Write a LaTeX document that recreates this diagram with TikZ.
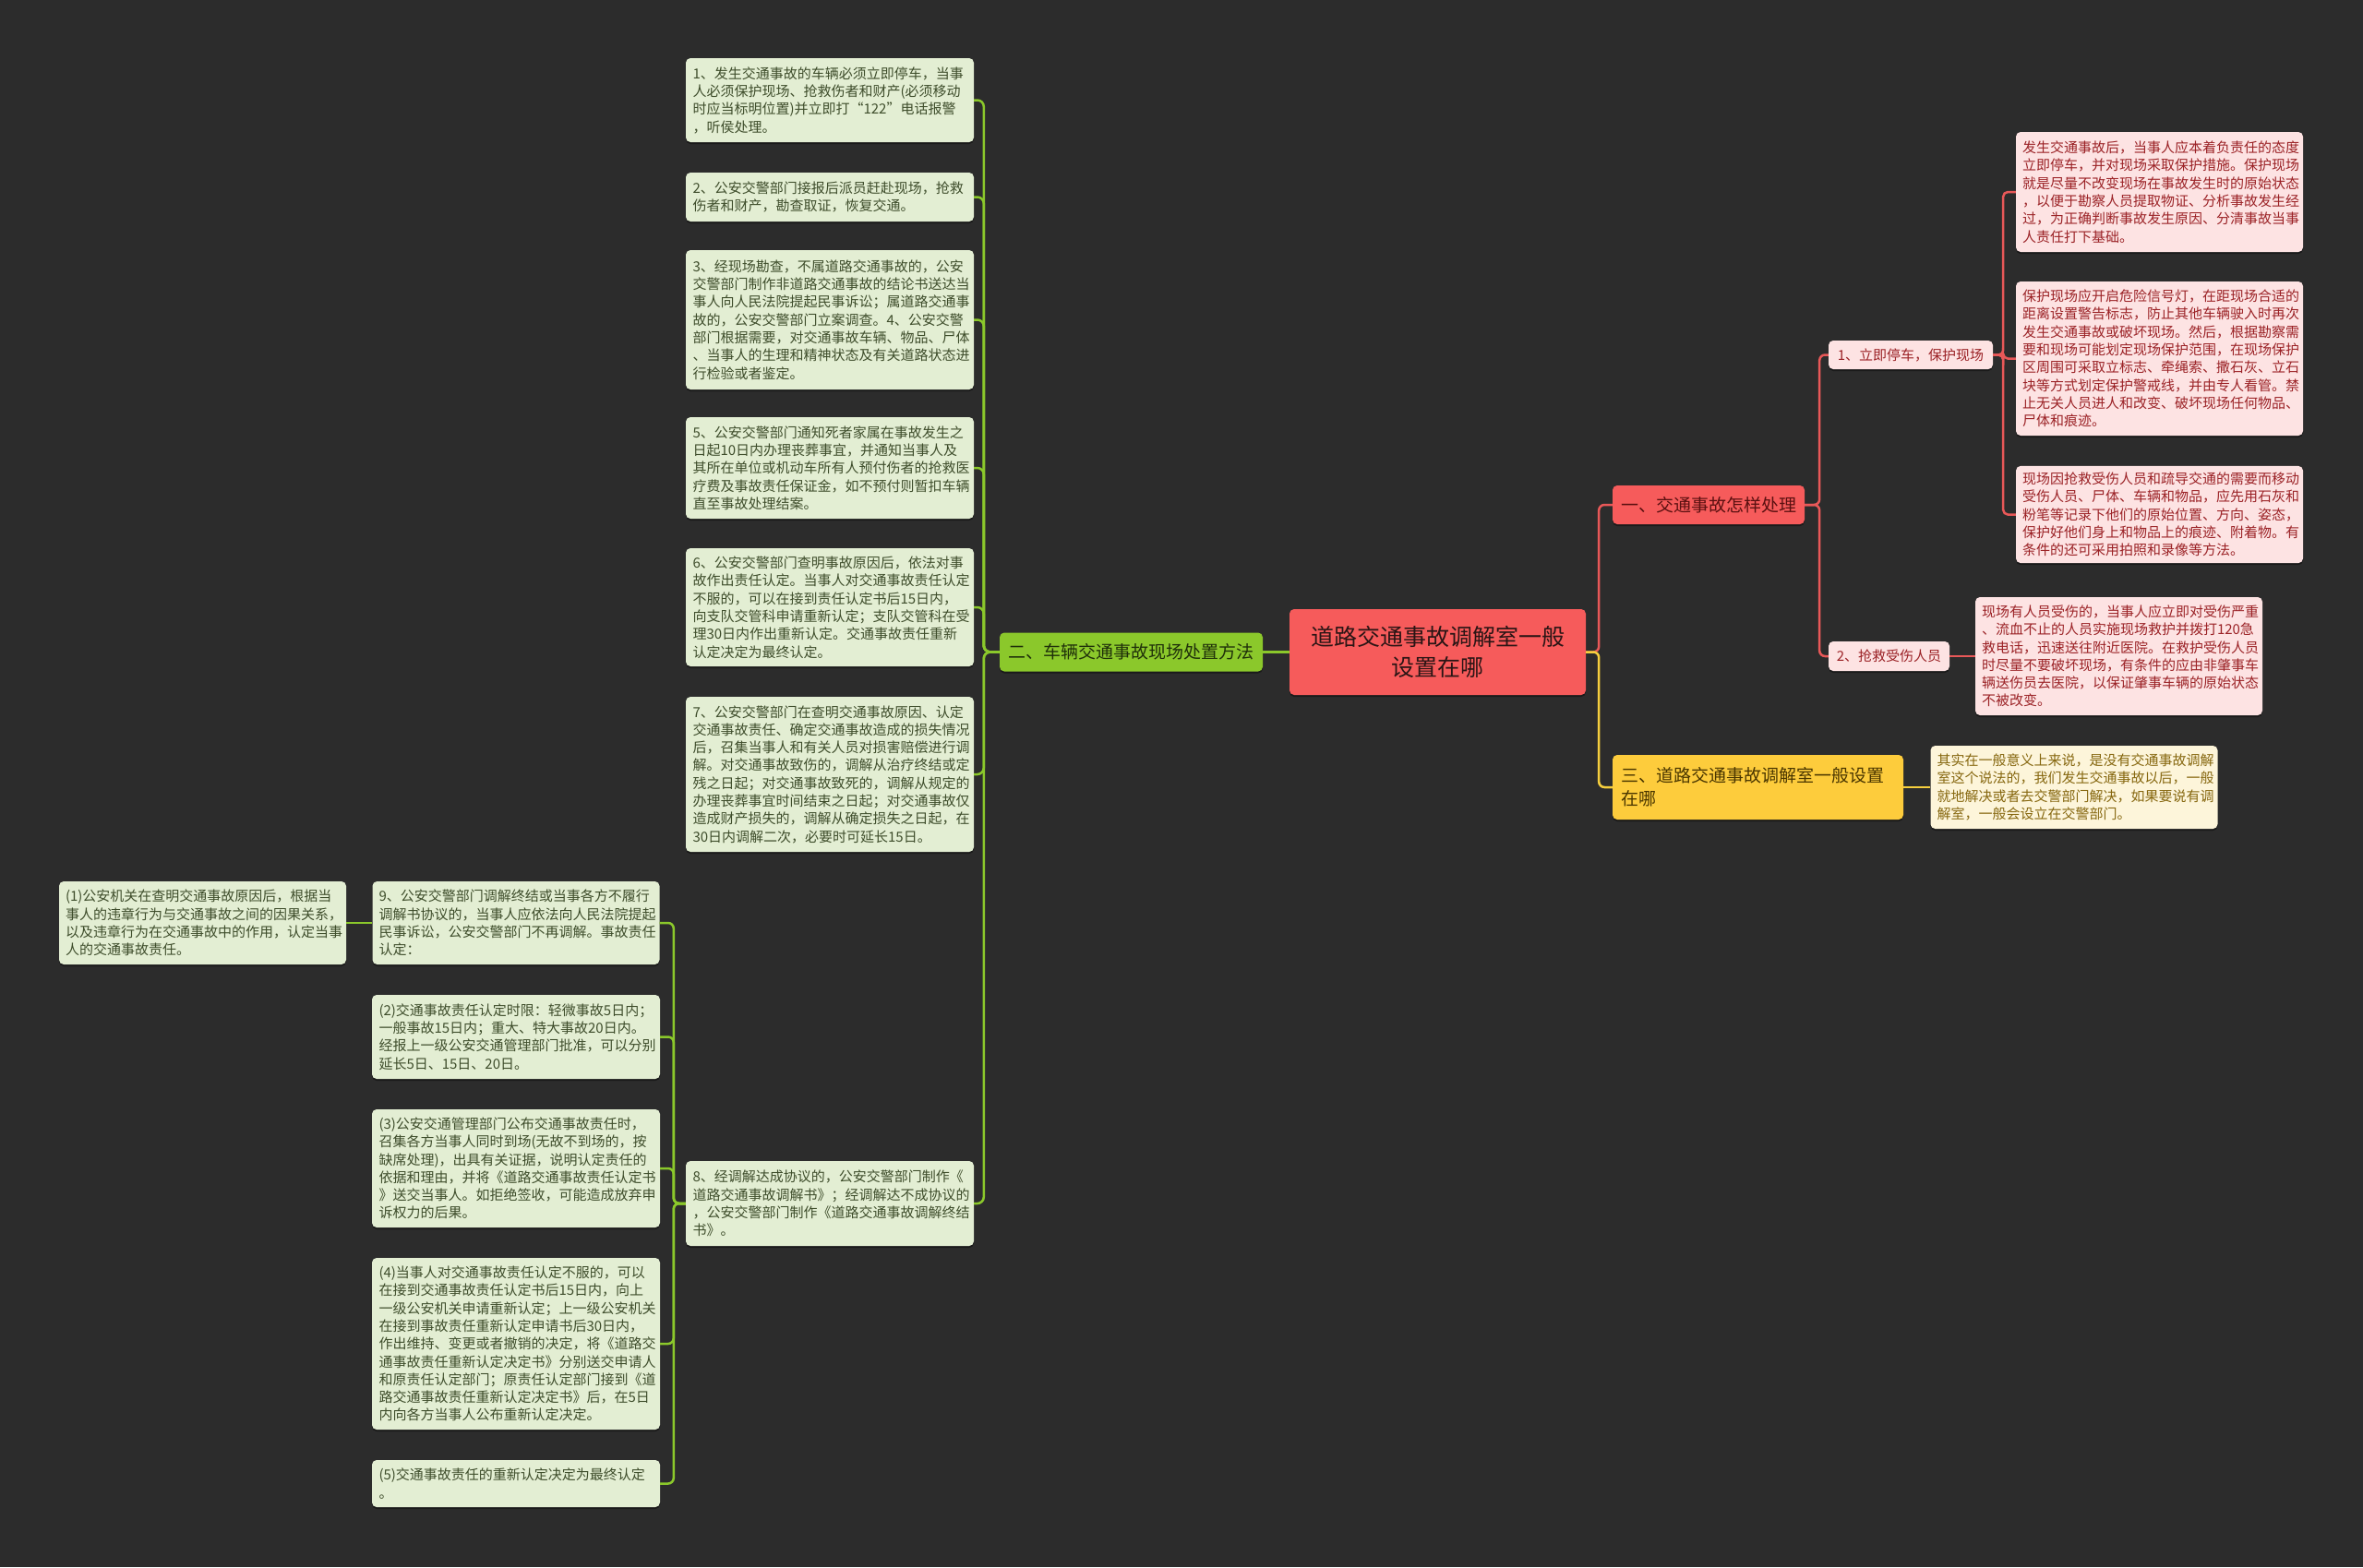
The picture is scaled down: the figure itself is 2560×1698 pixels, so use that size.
\documentclass[tikz,border=0pt]{standalone}
\usepackage{fontspec}
\setmainfont{Noto Sans CJK SC}
\definecolor{bg}{HTML}{2C2C2C}
\definecolor{shadowc}{HTML}{1A1A1A}
\definecolor{gfill}{HTML}{E3EED3}
\definecolor{gtext}{HTML}{3E4D2B}
\definecolor{pfill}{HTML}{FDE3E3}
\definecolor{ptext}{HTML}{9B2226}
\definecolor{yfill}{HTML}{FDF5DA}
\definecolor{ytext}{HTML}{86670F}
\definecolor{cred}{HTML}{F65B5B}
\definecolor{cgreen}{HTML}{8BC82B}
\definecolor{cyellow}{HTML}{FDCC3C}
\definecolor{lred}{HTML}{E85858}
\definecolor{lyellow}{HTML}{F6CF3E}
\definecolor{ctext}{HTML}{2A1515}
\definecolor{gntext}{HTML}{1F300A}
\definecolor{rntext}{HTML}{5A1010}
\definecolor{yntext}{HTML}{4A3600}
\begin{document}
\begin{tikzpicture}[x=1pt,y=-1pt,
  box/.style={rounded corners=5pt, inner sep=7pt, draw=none,
    preaction={fill=shadowc, draw=none, transform canvas={yshift=-2pt}}},
  leaf/.style={box, align=left, minimum width=311pt, text width=297pt,
    font=\fontsize{15}{19.3}\selectfont},
  gleaf/.style={leaf, fill=gfill, text=gtext},
  pleaf/.style={leaf, fill=pfill, text=ptext},
  yleaf/.style={leaf, fill=yfill, text=ytext},
  lvl/.style={box, font=\fontsize{19}{25}\selectfont},
  sub/.style={box, fill=pfill, text=ptext, inner sep=4pt, font=\fontsize{15}{19}\selectfont},
  gline/.style={draw=cgreen, line width=2.5pt, rounded corners=7pt},
  rline/.style={draw=lred, line width=2.5pt, rounded corners=6pt},
  yline/.style={draw=lyellow, line width=2.5pt, rounded corners=6pt}
]
\fill[bg] (0,0) rectangle (2560,1698);
\useasboundingbox (0,0) rectangle (2560,1698);

% central and first level
\node[box, fill=cred, text=ctext, align=center, minimum width=321pt, minimum height=93pt,
  font=\fontsize{25}{33}\selectfont] (c) at (1557.5,706.5) {道路交通事故调解室一般\\设置在哪};
\node[lvl, fill=cgreen, text=gntext, minimum width=285pt, minimum height=42pt] (g) at (1225.5,706.5) {二、车辆交通事故现场处置方法};
\node[lvl, fill=cred, text=rntext, minimum width=208pt, minimum height=42pt] (r) at (1851,547) {一、交通事故怎样处理};
\node[lvl, fill=cyellow, text=yntext, align=left, minimum width=315pt, minimum height=70pt, text width=297pt] (y) at (1904.5,853) {三、道路交通事故调解室一般设置\\在哪};

% right side second level
\node[sub, minimum width=178pt, minimum height=31pt] (ra) at (2070,384.5) {1、立即停车，保护现场};
\node[sub, minimum width=131pt, minimum height=32pt] (rb) at (2046.5,711) {2、抢救受伤人员};

% pink leaves
\node[pleaf, minimum height=130pt] (pa) at (2339.5,208) {发生交通事故后，当事人应本着负责任的态度\\立即停车，并对现场采取保护措施。保护现场\\就是尽量不改变现场在事故发生时的原始状态\\，以便于勘察人员提取物证、分析事故发生经\\过，为正确判断事故发生原因、分清事故当事\\人责任打下基础。};
\node[pleaf, minimum height=167pt] (pb) at (2339.5,388.5) {保护现场应开启危险信号灯，在距现场合适的\\距离设置警告标志，防止其他车辆驶入时再次\\发生交通事故或破坏现场。然后，根据勘察需\\要和现场可能划定现场保护范围，在现场保护\\区周围可采取立标志、牵绳索、撒石灰、立石\\块等方式划定保护警戒线，并由专人看管。禁\\止无关人员进人和改变、破坏现场任何物品、\\尸体和痕迹。};
\node[pleaf, minimum height=105pt] (pc) at (2339.5,557.5) {现场因抢救受伤人员和疏导交通的需要而移动\\受伤人员、尸体、车辆和物品，应先用石灰和\\粉笔等记录下他们的原始位置、方向、姿态，\\保护好他们身上和物品上的痕迹、附着物。有\\条件的还可采用拍照和录像等方法。};
\node[pleaf, minimum height=128pt] (pd) at (2295.5,711) {现场有人员受伤的，当事人应立即对受伤严重\\、流血不止的人员实施现场救护并拨打120急\\救电话，迅速送往附近医院。在救护受伤人员\\时尽量不要破坏现场，有条件的应由非肇事车\\辆送伤员去医院，以保证肇事车辆的原始状态\\不被改变。};
\node[yleaf, minimum width=310pt, minimum height=90pt] (ya) at (2247,853) {其实在一般意义上来说，是没有交通事故调解\\室这个说法的，我们发生交通事故以后，一般\\就地解决或者去交警部门解决，如果要说有调\\解室，一般会设立在交警部门。};

% green leaves
\node[gleaf, minimum width=312pt, minimum height=91pt] (b1) at (899,108.5) {1、发生交通事故的车辆必须立即停车，当事\\人必须保护现场、抢救伤者和财产(必须移动\\时应当标明位置)并立即打“122”电话报警\\，听侯处理。};
\node[gleaf, minimum width=312pt, minimum height=53pt] (b2) at (899,213.5) {2、公安交警部门接报后派员赶赴现场，抢救\\伤者和财产，勘查取证，恢复交通。};
\node[gleaf, minimum width=312pt, minimum height=151pt] (b3) at (899,346.5) {3、经现场勘查，不属道路交通事故的，公安\\交警部门制作非道路交通事故的结论书送达当\\事人向人民法院提起民事诉讼；属道路交通事\\故的，公安交警部门立案调查。4、公安交警\\部门根据需要，对交通事故车辆、物品、尸体\\、当事人的生理和精神状态及有关道路状态进\\行检验或者鉴定。};
\node[gleaf, minimum width=312pt, minimum height=110pt] (b5) at (899,507) {5、公安交警部门通知死者家属在事故发生之\\日起10日内办理丧葬事宜，并通知当事人及\\其所在单位或机动车所有人预付伤者的抢救医\\疗费及事故责任保证金，如不预付则暂扣车辆\\直至事故处理结案。};
\node[gleaf, minimum width=312pt, minimum height=128pt] (b6) at (899,658) {6、公安交警部门查明事故原因后，依法对事\\故作出责任认定。当事人对交通事故责任认定\\不服的，可以在接到责任认定书后15日内，\\向支队交管科申请重新认定；支队交管科在受\\理30日内作出重新认定。交通事故责任重新\\认定决定为最终认定。};
\node[gleaf, minimum width=312pt, minimum height=168pt] (b7) at (899,839) {7、公安交警部门在查明交通事故原因、认定\\交通事故责任、确定交通事故造成的损失情况\\后，召集当事人和有关人员对损害赔偿进行调\\解。对交通事故致伤的，调解从治疗终结或定\\残之日起；对交通事故致死的，调解从规定的\\办理丧葬事宜时间结束之日起；对交通事故仅\\造成财产损失的，调解从确定损失之日起，在\\30日内调解二次，必要时可延长15日。};
\node[gleaf, minimum width=312pt, minimum height=92pt] (b8) at (899,1304) {8、经调解达成协议的，公安交警部门制作《\\道路交通事故调解书》；经调解达不成协议的\\，公安交警部门制作《道路交通事故调解终结\\书》。};

\node[gleaf, minimum width=310pt, minimum height=90pt] (b9) at (559,1000) {9、公安交警部门调解终结或当事各方不履行\\调解书协议的，当事人应依法向人民法院提起\\民事诉讼，公安交警部门不再调解。事故责任\\认定：};
\node[gleaf, minimum width=311pt, minimum height=90pt] (q1) at (219.5,1000) {(1)公安机关在查明交通事故原因后，根据当\\事人的违章行为与交通事故之间的因果关系，\\以及违章行为在交通事故中的作用，认定当事\\人的交通事故责任。};
\node[gleaf, minimum width=312pt, minimum height=91pt] (q2) at (559,1123.5) {(2)交通事故责任认定时限：轻微事故5日内；\\一般事故15日内；重大、特大事故20日内。\\经报上一级公安交通管理部门批准，可以分别\\延长5日、15日、20日。};
\node[gleaf, minimum width=312pt, minimum height=128pt] (q3) at (559,1266) {(3)公安交通管理部门公布交通事故责任时，\\召集各方当事人同时到场(无故不到场的，按\\缺席处理)，出具有关证据，说明认定责任的\\依据和理由，并将《道路交通事故责任认定书\\》送交当事人。如拒绝签收，可能造成放弃申\\诉权力的后果。};
\node[gleaf, minimum width=312pt, minimum height=186pt] (q4) at (559,1456) {(4)当事人对交通事故责任认定不服的，可以\\在接到交通事故责任认定书后15日内，向上\\一级公安机关申请重新认定；上一级公安机关\\在接到事故责任重新认定申请书后30日内，\\作出维持、变更或者撤销的决定，将《道路交\\通事故责任重新认定决定书》分别送交申请人\\和原责任认定部门；原责任认定部门接到《道\\路交通事故责任重新认定决定书》后，在5日\\内向各方当事人公布重新认定决定。};
\node[gleaf, minimum width=312pt, minimum height=51pt] (q5) at (559,1607.5) {(5)交通事故责任的重新认定决定为最终认定\\。};

% connectors
\draw[gline] (c.west) -- (g.east);
\draw[rline] (c.east) -- ++(14,0) |- (r.west);
\draw[yline] (c.east) -- ++(14,0) |- (y.west);
\foreach \b in {b1,b2,b3,b5,b6,b7,b8} \draw[gline] (g.west) -- ++(-17,0) |- (\b.east);
\foreach \b in {b9,q2,q3,q4,q5} \draw[gline, rounded corners=6pt] (b8.west) -- ++(-13,0) |- (\b.east);
\draw[gline] (b9.west) -- (q1.east);
\foreach \b in {ra,rb} \draw[rline] (r.east) -- ++(16,0) |- (\b.west);
\foreach \b in {pa,pb,pc} \draw[rline, rounded corners=5pt] (ra.east) -- ++(11,0) |- (\b.west);
\draw[rline] (rb.east) -- (pd.west);
\draw[yline] (y.east) -- (ya.west);
\end{tikzpicture}
\end{document}
